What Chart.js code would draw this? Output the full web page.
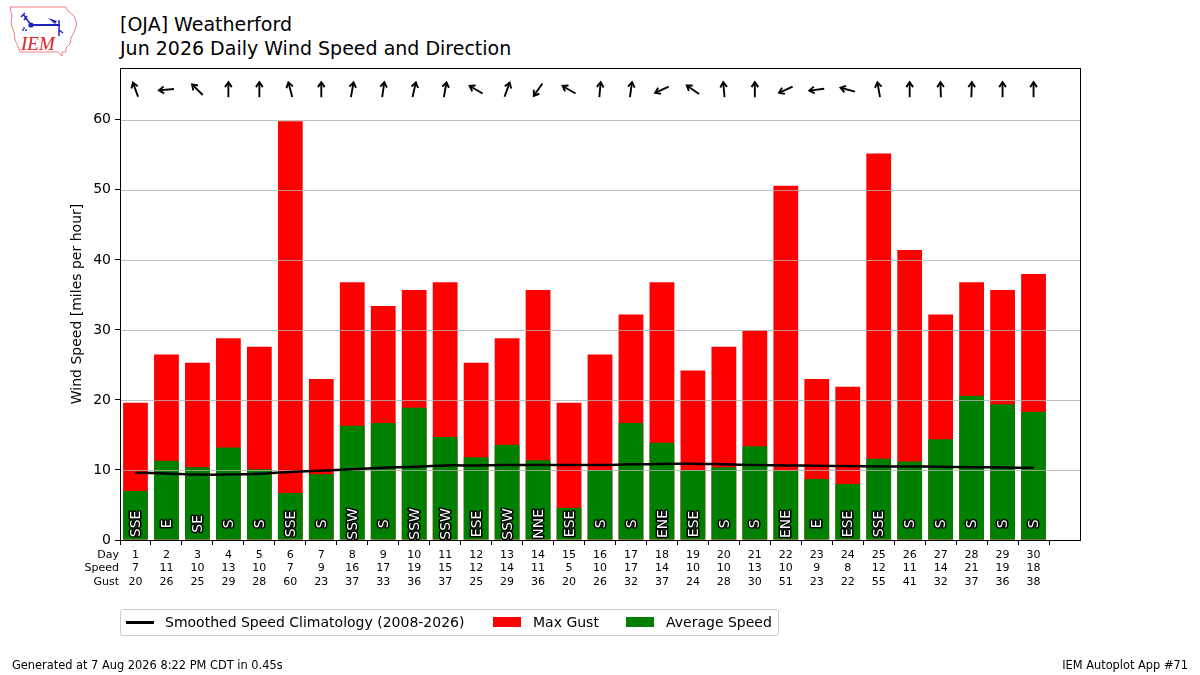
<!DOCTYPE html>
<html>
<head>
<meta charset="utf-8">
<script src="https://cdn.jsdelivr.net/npm/chart.js@4.4.1/dist/chart.umd.min.js"></script>
<style>
  html, body { margin: 0; padding: 0; background: #fff; }
  #wrap { position: relative; width: 1200px; height: 675px; overflow: hidden; font-family: "DejaVu Sans", sans-serif; color: #000; }
  #c { position: absolute; left: 0; top: 0; }
  .title { position: absolute; left: 120px; font-size: 19px; white-space: nowrap; }
  .foot { position: absolute; font-size: 11.4px; top: 658px; white-space: nowrap; }
  #legend { position: absolute; left: 120px; top: 609px; width: 657px; height: 25px; border: 1px solid #cccccc; border-radius: 3px; font-size: 14px; }
  #legend .it { position: absolute; top: 0; height: 25px; line-height: 25px; white-space: nowrap; }
  #legend .sw { position: absolute; }
</style>
</head>
<body>
<div id="wrap">
  <svg style="position:absolute;left:0;top:0" width="90" height="62" viewBox="0 0 90 62">
    <path d="M10 7 L66 7 L68 11 L74 16 L77 24 L74 32 L71 38 L70 44 L66 48 L66 52 L62 52 L62 56 L58 52 L20 52 L18 46 L15 40 L14 32 L11 24 L12 16 Z" fill="none" stroke="#f08080" stroke-width="1"/>
    <line x1="30" y1="25" x2="60" y2="25" stroke="#2020c0" stroke-width="2"/>
    <circle cx="31" cy="25" r="2.6" fill="#2020c0"/>
    <path d="M23 14 L31 25 M21 17 L25 13 M24 20 L27 16" stroke="#2020c0" stroke-width="1.5" fill="none"/>
    <path d="M48 18 L57 21 L55 24 Z" fill="#2020c0"/>
    <path d="M59 20 L59 36 M59 30 L63 33" stroke="#2020c0" stroke-width="1.5" fill="none"/>
    <circle cx="24" cy="28" r="0.9" fill="#2020c0"/><circle cx="23" cy="30" r="0.9" fill="#2020c0"/><circle cx="26" cy="30" r="0.9" fill="#2020c0"/>
    <text x="21" y="50" font-family="Liberation Serif, serif" font-style="italic" font-size="19" fill="#e02020">IEM</text>
  </svg>
  <div class="title" style="top:13px">[OJA] Weatherford</div>
  <div class="title" style="top:37px">Jun 2026 Daily Wind Speed and Direction</div>
  <canvas id="c" width="1200" height="675"></canvas>
  <div id="legend">
    <div class="sw" style="left:5px;top:11px;width:28px;height:3px;background:#000"></div>
    <div class="it" style="left:44px">Smoothed Speed Climatology (2008-2026)</div>
    <div class="sw" style="left:372px;top:7px;width:28px;height:10px;background:#ff0000"></div>
    <div class="it" style="left:412px">Max Gust</div>
    <div class="sw" style="left:505px;top:7px;width:28px;height:10px;background:#008000"></div>
    <div class="it" style="left:545px">Average Speed</div>
  </div>
  <div class="foot" style="left:12px">Generated at 7 Aug 2026 8:22 PM CDT in 0.45s</div>
  <div class="foot" style="right:12px">IEM Autoplot App #71</div>
</div>
<script>
// ---- data ----
const days = [1,2,3,4,5,6,7,8,9,10,11,12,13,14,15,16,17,18,19,20,21,22,23,24,25,26,27,28,29,30];
const avgSpeed = [7.0,11.3,10.4,13.2,10.1,6.7,9.4,16.3,16.7,18.9,14.7,11.8,13.6,11.4,4.6,10.0,16.7,13.9,10.0,10.4,13.4,9.9,8.7,8.0,11.6,11.2,14.4,20.6,19.4,18.3];
const maxGust = [19.6,26.5,25.3,28.8,27.6,59.8,23.0,36.8,33.4,35.7,36.8,25.3,28.8,35.7,19.6,26.5,32.2,36.8,24.2,27.6,29.9,50.6,23.0,21.9,55.2,41.4,32.2,36.8,35.7,38.0];
const climo = [9.6,9.5,9.35,9.35,9.45,9.7,9.9,10.1,10.3,10.45,10.65,10.65,10.7,10.7,10.7,10.7,10.8,10.85,10.9,10.8,10.7,10.65,10.6,10.55,10.5,10.5,10.45,10.4,10.35,10.3];
const dirDeg = [160,85,135,180,180,165,180,190,188,193,190,120,200,35,120,185,188,65,125,175,180,65,83,105,170,180,178,182,180,180];
const dirText = ["SSE","E","SE","S","S","SSE","S","SSW","S","SSW","SSW","ESE","SSW","NNE","ESE","S","S","ENE","ESE","S","S","ENE","E","ESE","SSE","S","S","S","S","S"];
const speedLabels = ["7","11","10","13","10","7","9","16","17","19","15","12","14","11","5","10","17","14","10","10","13","10","9","8","12","11","14","21","19","18"];
const gustLabels = ["20","26","25","29","28","60","23","37","33","36","37","25","29","36","20","26","32","37","24","28","30","51","23","22","55","41","32","37","36","38"];
const rowLabels = ["Day","Speed","Gust"];
const yTicks = [0,10,20,30,40,50,60];

const FONT = "DejaVu Sans";
const ARROW_Y = 64.3;
const LABEL_Y = 2.3;

const overlay = {
  id: 'overlay',
  beforeDatasetDraw(chart, args) {
    if (args.index !== 0) return;
    const {ctx, chartArea: a, scales: {y}} = chart;
    ctx.save();
    ctx.strokeStyle = '#b0b0b0';
    ctx.lineWidth = 0.8;
    yTicks.forEach(v => {
      if (v === 0) return;
      const py = Math.round(y.getPixelForValue(v)) + 0.5;
      ctx.beginPath(); ctx.moveTo(a.left, py); ctx.lineTo(a.right, py); ctx.stroke();
    });
    // direction labels inside bars
    const x = chart.scales.x;
    ctx.font = '14px "' + FONT + '"';
    ctx.textAlign = 'center';
    ctx.textBaseline = 'middle';
    ctx.lineJoin = 'round';
    days.forEach((d, i) => {
      const px = x.getPixelForValue(d), py = y.getPixelForValue(LABEL_Y);
      ctx.save();
      ctx.translate(px, py);
      ctx.rotate(-Math.PI / 2);
      ctx.strokeStyle = '#000'; ctx.lineWidth = 3;
      ctx.strokeText(dirText[i], 0, 1);
      ctx.fillStyle = '#fff';
      ctx.fillText(dirText[i], 0, 1);
      ctx.restore();
    });
    ctx.restore();
  },
  afterDraw(chart) {
    const {ctx, chartArea: a, scales: {x, y}} = chart;
    ctx.save();
    // frame
    ctx.strokeStyle = '#000'; ctx.lineWidth = 1;
    ctx.strokeRect(Math.round(a.left) + 0.5, Math.round(a.top) + 0.5, Math.round(a.right - a.left), Math.round(a.bottom - a.top));
    // arrows
    ctx.lineWidth = 1.9; ctx.lineCap = 'butt';
    days.forEach((d, i) => {
      const cx = x.getPixelForValue(d), cy = y.getPixelForValue(ARROW_Y);
      const b = (dirDeg[i] + 180) * Math.PI / 180;
      const dx = Math.sin(b), dy = -Math.cos(b);
      const L = 7.5;
      const hx = cx + dx * L, hy = cy + dy * L;
      const tx = cx - dx * L, ty = cy - dy * L;
      ctx.beginPath(); ctx.moveTo(tx, ty); ctx.lineTo(hx, hy); ctx.stroke();
      const ang = Math.atan2(dy, dx);
      const h = 6, sp = 0.6;
      ctx.beginPath();
      ctx.moveTo(hx - h * Math.cos(ang - sp), hy - h * Math.sin(ang - sp));
      ctx.lineTo(hx, hy);
      ctx.lineTo(hx - h * Math.cos(ang + sp), hy - h * Math.sin(ang + sp));
      ctx.stroke();
    });
    // table row labels
    ctx.fillStyle = '#000';
    ctx.font = '11px "' + FONT + '"';
    ctx.textAlign = 'right';
    ctx.textBaseline = 'middle';
    rowLabels.forEach((t, i) => {
      ctx.fillText(t, a.left - 1, a.bottom + 5 + 3 + 6.75 + i * 13.5);
    });
    ctx.restore();
  }
};

new Chart(document.getElementById('c'), {
  type: 'bar',
  data: {
    datasets: [
      {
        type: 'line',
        label: 'Smoothed Speed Climatology (2008-2026)',
        data: days.map((d, i) => ({x: d, y: climo[i]})),
        borderColor: '#000', borderWidth: 2.5, pointRadius: 0, tension: 0.3, fill: false, order: 0
      },
      {
        label: 'Average Speed',
        data: days.map((d, i) => ({x: d, y: avgSpeed[i]})),
        backgroundColor: '#008000', order: 1
      },
      {
        label: 'Max Gust',
        data: days.map((d, i) => ({x: d, y: maxGust[i]})),
        backgroundColor: '#ff0000', order: 2
      }
    ]
  },
  options: {
    responsive: false,
    animation: false,
    devicePixelRatio: 1,
    layout: { padding: { left: 60, top: 68, right: 120, bottom: 85 } },
    datasets: { bar: { grouped: false, barPercentage: 0.8, categoryPercentage: 1.0 } },
    plugins: { legend: { display: false }, tooltip: { enabled: false }, title: { display: false } },
    scales: {
      x: {
        type: 'linear', min: 0.5, max: 31.5, offset: false,
        afterBuildTicks: ax => { ax.ticks = days.map(d => ({value: d})); },
        afterFit: ax => { ax.height = 50; },
        grid: { drawOnChartArea: false, drawTicks: true, tickLength: 5, tickColor: '#000', tickWidth: 1 },
        border: { color: '#000', width: 1 },
        ticks: {
          autoSkip: false, maxRotation: 0, padding: 3, color: '#000',
          font: { family: FONT, size: 11, lineHeight: 1.227 },
          callback: (v) => { const i = days.indexOf(v); return i < 0 ? '' : [String(days[i]), speedLabels[i], gustLabels[i]]; }
        }
      },
      y: {
        min: 0, max: 67.4,
        afterBuildTicks: ax => { ax.ticks = yTicks.map(v => ({value: v})); },
        afterFit: ax => { ax.width = 60; },
        grid: { drawOnChartArea: false, drawTicks: true, tickLength: 5, tickColor: '#000', tickWidth: 1 },
        border: { color: '#000', width: 1 },
        ticks: { padding: 4, color: '#000', font: { family: FONT, size: 14 } },
        title: { display: true, text: 'Wind Speed [miles per hour]', color: '#000', font: { family: FONT, size: 14 }, padding: { top: 9, bottom: 0 } }
      }
    }
  },
  plugins: [overlay]
});
</script>
</body>
</html>
